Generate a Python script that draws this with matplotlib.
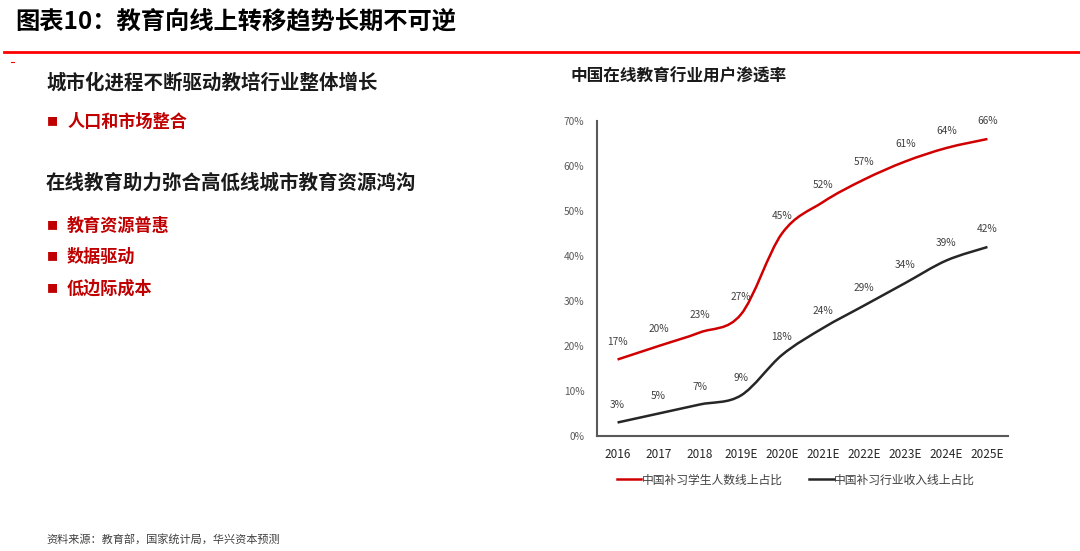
import numpy as np
import matplotlib.pyplot as plt
from matplotlib.path import Path
from matplotlib.patches import PathPatch
from matplotlib.lines import Line2D

plt.rcParams['font.family'] = ['Noto Sans CJK SC', 'DejaVu Sans']

# 数据
years = ['2016', '2017', '2018', '2019E', '2020E', '2021E', '2022E', '2023E', '2024E', '2025E']
students = [17, 20, 23, 27, 45, 52, 57, 61, 64, 66]
revenue = [3, 5, 7, 9, 18, 24, 29, 34, 39, 42]
yticks = [0, 10, 20, 30, 40, 50, 60, 70]

red = '#D00000'
dark = '#262626'


def smooth_path(xs, ys):
    # 类似Excel平滑线：Catmull-Rom 转贝塞尔
    pts = list(zip(xs, ys))
    verts = [pts[0]]
    codes = [Path.MOVETO]
    n = len(pts)
    for i in range(n - 1):
        p0 = pts[i - 1] if i > 0 else pts[i]
        p1 = pts[i]
        p2 = pts[i + 1]
        p3 = pts[i + 2] if i + 2 < n else pts[i + 1]
        c1 = (p1[0] + (p2[0] - p0[0]) / 6, p1[1] + (p2[1] - p0[1]) / 6)
        c2 = (p2[0] - (p3[0] - p1[0]) / 6, p2[1] - (p3[1] - p1[1]) / 6)
        verts += [c1, c2, p2]
        codes += [Path.CURVE4] * 3
    return Path(verts, codes)


fig = plt.figure(figsize=(10.8, 5.51), dpi=100)

# 标题与红线
fig.text(15 / 1080, 1 - 22 / 551, '图表10：教育向线上转移趋势长期不可逆',
         fontsize=17.5, fontweight='bold', va='center', ha='left', color='black')
fig.add_artist(Line2D([4 / 1080, 1], [1 - 52 / 551] * 2, color='#FF0000', lw=2))
fig.add_artist(Line2D([11 / 1080, 14 / 1080], [1 - 62 / 551] * 2, color='#FF0000', lw=0.8))

# 左侧文字
fig.text(46 / 1080, 1 - 83 / 551, '城市化进程不断驱动教培行业整体增长',
         fontsize=14, fontweight='bold', va='center', color='#1a1a1a')
fig.text(46 / 1080, 1 - 183 / 551, '在线教育助力弥合高低线城市教育资源鸿沟',
         fontsize=14, fontweight='bold', va='center', color='#1a1a1a')
bullets = [(122, '人口和市场整合'), (226, '教育资源普惠'), (257, '数据驱动'), (289, '低边际成本')]
for y, t in bullets:
    fig.text(47 / 1080, 1 - y / 551, '■', fontsize=8, color='#C00000', va='center')
    fig.text(67 / 1080, 1 - y / 551, t, fontsize=12.3, fontweight='bold', color='#C00000', va='center')

fig.text(46 / 1080, 1 - 539 / 551, '资料来源：教育部，国家统计局，华兴资本预测',
         fontsize=8, color='#404040', va='center')

# 图表
fig.text(570 / 1080, 1 - 77 / 551, '中国在线教育行业用户渗透率',
         fontsize=12, fontweight='bold', va='center', color='#1a1a1a')

ax = fig.add_axes([597 / 1080, 115 / 551, 411 / 1080, 315 / 551])
x = np.arange(len(years))
ax.add_patch(PathPatch(smooth_path(x, students), fill=False, ec=red, lw=1.8))
ax.add_patch(PathPatch(smooth_path(x, revenue), fill=False, ec=dark, lw=1.8))

for xi, v in zip(x, students):
    ax.annotate(f'{v}%', (xi, v), xytext=(0, 9), textcoords='offset points',
                ha='center', va='bottom', fontsize=7.3, color='#404040')
for xi, v in zip(x, revenue):
    ax.annotate(f'{v}%', (xi, v), xytext=(0, 9), textcoords='offset points',
                ha='center', va='bottom', fontsize=7.3, color='#404040')

ax.set_xlim(-0.5, 9.5)
ax.set_ylim(0, 70)
ax.set_xticks(x)
ax.set_xticklabels(years, fontsize=8.5, color='#262626')
ax.set_yticks(yticks)
ax.set_yticklabels([f'{t}%' for t in yticks], fontsize=7.3, color='#595959')
ax.tick_params(length=0)
ax.tick_params(axis='x', pad=9)
ax.tick_params(axis='y', pad=9)
for s in ['top', 'right']:
    ax.spines[s].set_visible(False)
for s in ['left', 'bottom']:
    ax.spines[s].set_color('#595959')
    ax.spines[s].set_linewidth(1.5)

handles = [Line2D([], [], color=red, lw=1.8), Line2D([], [], color=dark, lw=1.8)]
fig.legend(handles, ['中国补习学生人数线上占比', '中国补习行业收入线上占比'],
           loc='center left', bbox_to_anchor=(606 / 1080, 1 - 480 / 551),
           ncol=2, frameon=False, fontsize=8.5, handlelength=2.1, handletextpad=0.05,
           columnspacing=2.2, labelcolor='#404040')

fig.savefig('out.png', dpi=100)
